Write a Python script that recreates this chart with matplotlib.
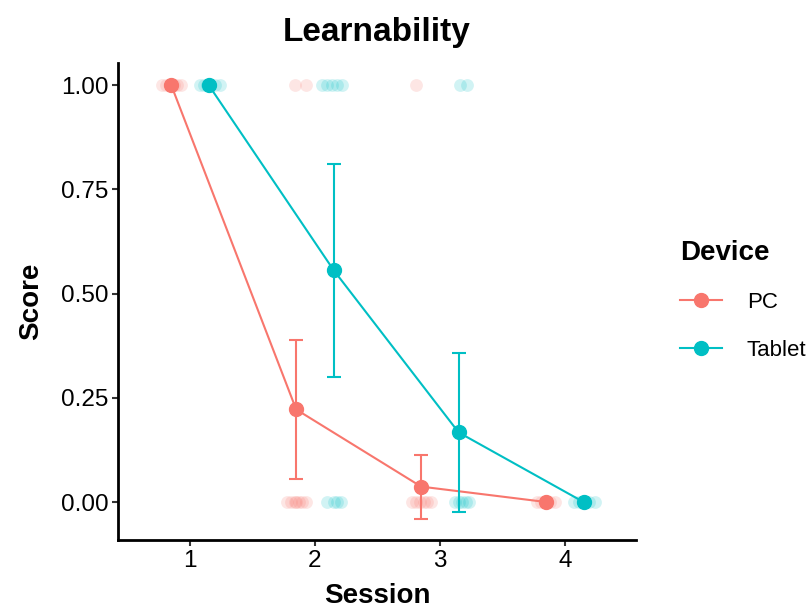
import numpy as np
import matplotlib
matplotlib.use("Agg")
import matplotlib.pyplot as plt
from matplotlib.lines import Line2D

plt.rcParams['font.family'] = ['Liberation Sans', 'DejaVu Sans']

# summary values (mean with error bar ends) per session
sessions = [1, 2, 3, 4]
devices = ['PC', 'Tablet']
colors = {'PC': '#F8766D', 'Tablet': '#00BFC4'}

pc_mean = [1.0, 0.222, 0.037, 0.0]
pc_low = [1.0, 0.055, -0.041, 0.0]
pc_high = [1.0, 0.389, 0.113, 0.0]

tab_mean = [1.0, 0.556, 0.167, 0.0]
tab_low = [1.0, 0.300, -0.024, 0.0]
tab_high = [1.0, 0.810, 0.357, 0.0]

pc_raw_x = [0.78, 0.81, 0.84, 0.87, 0.90, 0.93,
            1.84, 1.93,
            2.805,
            1.78, 1.81, 1.84, 1.85, 1.87, 1.90, 1.93,
            2.78, 2.81, 2.84, 2.87, 2.90, 2.93,
            3.78, 3.81, 3.85, 3.88, 3.92]
pc_raw_y = [1, 1, 1, 1, 1, 1,
            1, 1,
            1,
            0, 0, 0, 0, 0, 0, 0,
            0, 0, 0, 0, 0, 0,
            0, 0, 0, 0, 0]

tab_raw_x = [1.08, 1.11, 1.14, 1.16, 1.20, 1.24,
             2.06, 2.10, 2.14, 2.18, 2.22,
             3.16, 3.22,
             2.10, 2.15, 2.18, 2.21,
             3.12, 3.15, 3.18, 3.21, 3.23,
             4.07, 4.11, 4.15, 4.19, 4.24]
tab_raw_y = [1, 1, 1, 1, 1, 1,
             1, 1, 1, 1, 1,
             1, 1,
             0, 0, 0, 0,
             0, 0, 0, 0, 0,
             0, 0, 0, 0, 0]

dodge = 0.15

fig = plt.figure(figsize=(8.11, 6.10), dpi=100)
ax = fig.add_axes([0.1455, 0.1148, 0.784 - 0.1455, 0.8967 - 0.1148])

# jittered raw points
ax.scatter(pc_raw_x, pc_raw_y, s=85, color=colors['PC'], alpha=0.18, linewidths=0, zorder=1)
ax.scatter(tab_raw_x, tab_raw_y, s=85, color=colors['Tablet'], alpha=0.18, linewidths=0, zorder=1)

summary = {
    'PC': (pc_mean, pc_low, pc_high, -dodge),
    'Tablet': (tab_mean, tab_low, tab_high, dodge),
}
for dev in devices:
    mean, low, high, off = summary[dev]
    x = np.array(sessions) + off
    mean = np.array(mean)
    yerr = [mean - np.array(low), np.array(high) - mean]
    ax.plot(x, mean, color=colors[dev], lw=1.5, zorder=2)
    ax.errorbar(x, mean, yerr=yerr, fmt='none', ecolor=colors[dev],
                elinewidth=1.5, capsize=4.8, capthick=1.5, zorder=3)
    ax.plot(x, mean, 'o', color=colors[dev], ms=10, zorder=4)

ax.set_xlim(0.424, 4.568)
ax.set_ylim(-0.091, 1.053)
ax.set_xticks(sessions)
ax.set_yticks([0, 0.25, 0.5, 0.75, 1.0])
ax.set_yticklabels(['0.00', '0.25', '0.50', '0.75', '1.00'])

for side in ['top', 'right']:
    ax.spines[side].set_visible(False)
for side in ['left', 'bottom']:
    ax.spines[side].set_linewidth(2)
    ax.spines[side].set_color('black')
ax.tick_params(axis='both', length=4, width=1.5, color='#333333',
               labelsize=17.5, labelcolor='black', pad=3)

ax.set_title('Learnability', fontsize=24, fontweight='bold', pad=16)
ax.set_xlabel('Session', fontsize=20, fontweight='bold', labelpad=8)
ax.set_ylabel('Score', fontsize=20, fontweight='bold', labelpad=12)

handles = [Line2D([], [], color=colors[d], lw=1.5, marker='o', ms=10) for d in devices]
leg = fig.legend(handles, devices, loc='upper left', bbox_to_anchor=(0.814, 0.64),
                 frameon=False, title='Device', fontsize=16, handlelength=1.9,
                 labelspacing=1.2, handletextpad=1.1, alignment='left',
                 title_fontproperties={'size': 20, 'weight': 'bold'})

fig.savefig('out.png', dpi=100)
